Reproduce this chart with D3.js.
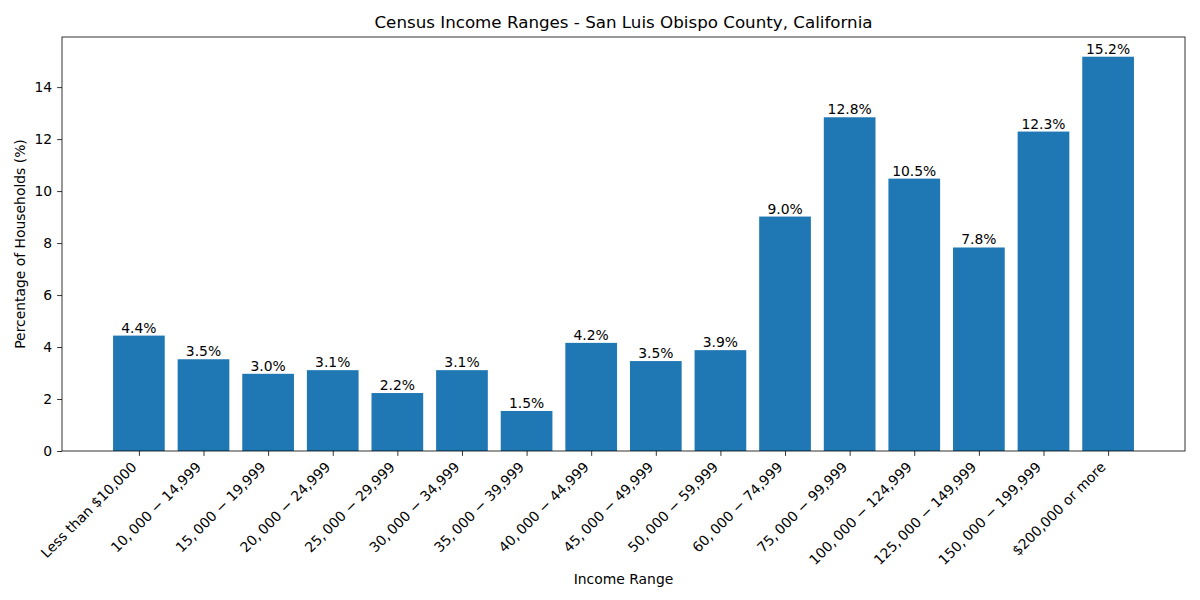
<!DOCTYPE html>
<html>
<head>
<meta charset="utf-8">
<script src="https://cdn.jsdelivr.net/npm/d3@7"></script>
<style>
  body { margin: 0; background: #fff; }
  text { font-family: "DejaVu Sans", sans-serif; fill: #000; }
</style>
</head>
<body>
<div id="chart"></div>
<script>
var categories = [
    'Less than $10,000',
    '10,\u2009000 \u2212 14,999',
    '15,\u2009000 \u2212 19,999',
    '20,\u2009000 \u2212 24,999',
    '25,\u2009000 \u2212 29,999',
    '30,\u2009000 \u2212 34,999',
    '35,\u2009000 \u2212 39,999',
    '40,\u2009000 \u2212 44,999',
    '45,\u2009000 \u2212 49,999',
    '50,\u2009000 \u2212 59,999',
    '60,\u2009000 \u2212 74,999',
    '75,\u2009000 \u2212 99,999',
    '100,\u2009000 \u2212 124,999',
    '125,\u2009000 \u2212 149,999',
    '150,\u2009000 \u2212 199,999',
    '$200,000 or more'
];
var percentages = [4.44, 3.53, 2.97, 3.11, 2.23, 3.11, 1.54, 4.16, 3.46, 3.88, 9.02, 12.84, 10.48, 7.83, 12.29, 15.17];
var yTicks = [0, 2, 4, 6, 8, 10, 12, 14];

var width = 1200, height = 600;
var margin = { top: 37, right: 15, bottom: 149, left: 62 };
var plotW = width - margin.left - margin.right;
var plotH = height - margin.top - margin.bottom;
var barColor = '#1f77b4';

var svg = d3.select('#chart').append('svg')
    .attr('width', width)
    .attr('height', height);

var g = svg.append('g').attr('transform', 'translate(' + margin.left + ',' + margin.top + ')');

// matplotlib style: bars of width 0.8, 5% margin on each side
var n = categories.length;
var pad = (n - 1 + 0.8) * 0.05;
var x = d3.scaleLinear()
    .domain([-0.4 - pad, n - 1 + 0.4 + pad])
    .range([0, plotW]);
var y = d3.scaleLinear()
    .domain([0, d3.max(percentages) * 1.05])
    .range([plotH, 0]);

g.selectAll('rect.bar')
    .data(percentages)
    .enter()
    .append('rect')
    .attr('class', 'bar')
    .attr('x', function (d, i) { return x(i - 0.4); })
    .attr('width', x(0.8) - x(0))
    .attr('y', function (d) { return y(d); })
    .attr('height', function (d) { return plotH - y(d); })
    .attr('fill', barColor);

g.selectAll('text.val')
    .data(percentages)
    .enter()
    .append('text')
    .attr('class', 'val')
    .attr('x', function (d, i) { return x(i); })
    .attr('y', function (d) { return y(d) - 3; })
    .attr('text-anchor', 'middle')
    .style('font-size', '13.9px')
    .text(function (d) { return d.toFixed(1) + '%'; });

// y axis
var yAxis = g.append('g')
    .call(d3.axisLeft(y).tickValues(yTicks).tickSize(4.9).tickPadding(4.9).tickFormat(d3.format('d')));
yAxis.select('.domain').remove();
yAxis.selectAll('text').style('font-size', '13.9px').style('font-family', '"DejaVu Sans", sans-serif');
yAxis.selectAll('line').attr('stroke', '#000').attr('stroke-width', 0.8);

// x axis
var xAxis = g.append('g')
    .attr('transform', 'translate(0,' + plotH + ')')
    .call(d3.axisBottom(x).tickValues(d3.range(n)).tickSize(4.9).tickFormat(function (i) { return categories[i]; }));
xAxis.select('.domain').remove();
xAxis.selectAll('line').attr('stroke', '#000').attr('stroke-width', 0.8);
xAxis.selectAll('text')
    .style('font-size', '13.9px')
    .style('font-family', '"DejaVu Sans", sans-serif')
    .attr('text-anchor', 'end')
    .attr('y', 0)
    .attr('dy', 0)
    .attr('transform', 'translate(-2,17) rotate(-45)');

// frame
g.append('rect')
    .attr('width', plotW)
    .attr('height', plotH)
    .attr('fill', 'none')
    .attr('stroke', '#000')
    .attr('stroke-width', 0.8);

svg.append('text')
    .attr('x', margin.left + plotW / 2)
    .attr('y', 28)
    .attr('text-anchor', 'middle')
    .style('font-size', '16.7px')
    .text('Census Income Ranges - San Luis Obispo County, California');

svg.append('text')
    .attr('x', margin.left + plotW / 2)
    .attr('y', 584)
    .attr('text-anchor', 'middle')
    .style('font-size', '13.9px')
    .text('Income Range');

svg.append('text')
    .attr('transform', 'translate(25,' + (margin.top + plotH / 2) + ') rotate(-90)')
    .attr('text-anchor', 'middle')
    .style('font-size', '13.9px')
    .text('Percentage of Households (%)');
</script>
</body>
</html>
